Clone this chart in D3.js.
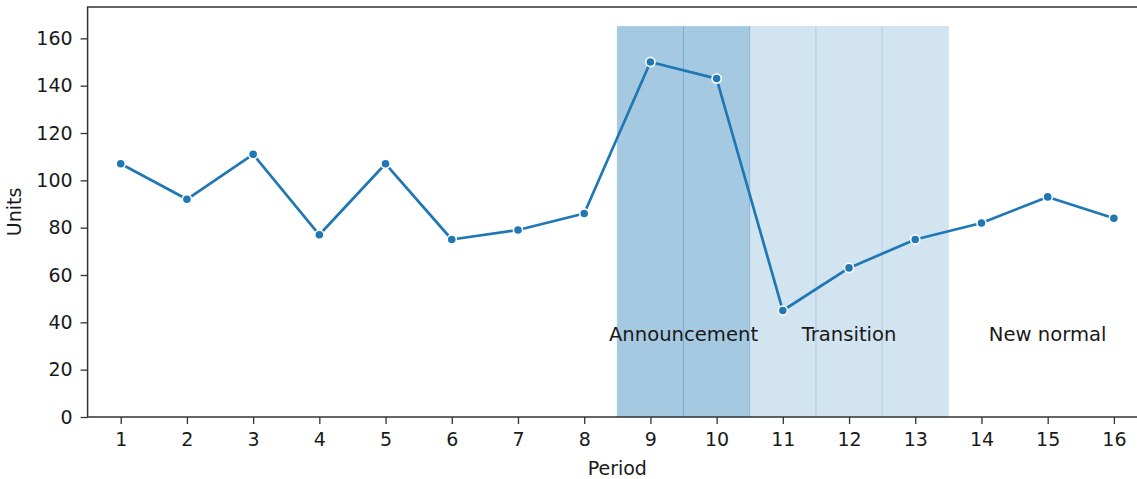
<!DOCTYPE html>
<html>
<head>
<meta charset="utf-8">
<script src="https://cdn.jsdelivr.net/npm/d3@7"></script>
<style>
  html, body { margin: 0; padding: 0; background: #ffffff; }
  svg { display: block; font-family: "DejaVu Sans", sans-serif; }
</style>
</head>
<body>
<svg id="chart" width="1137" height="479"></svg>
<script>
// Units per period
const periods = [1, 2, 3, 4, 5, 6, 7, 8, 9, 10, 11, 12, 13, 14, 15, 16];
const units = [107, 92, 111, 77, 107, 75, 79, 86, 150, 143, 45, 63, 75, 82, 93, 84];

// Shaded periods for each phase
const announcementPeriods = [9, 10];
const transitionPeriods = [11, 12, 13];

// Phase labels and the period they are centred on
const phaseNames = ["Announcement", "Transition", "New normal"];
const phaseCenters = [9.5, 12, 15];
const phaseLabelY = 35;

const yTicks = [0, 20, 40, 60, 80, 100, 120, 140, 160];
const bandTop = 165;

const svg = d3.select("#chart");
const margin = { left: 87.6, top: 7, bottom: 62 };
const plotRight = 1147;
const height = 479;

const x = d3.scaleLinear().domain([0.5, 16.5]).range([margin.left, plotRight]);
const y = d3.scaleLinear().domain([0, 173.25]).range([height - margin.bottom, margin.top]);

const blue = "#1f77b4";

// phase bands, one span per period
const bands = svg.append("g");
function drawBands(list, alpha) {
  bands.selectAll(null)
    .data(list)
    .enter()
    .append("rect")
    .attr("x", d => x(d - 0.5))
    .attr("width", d => x(d + 0.5) - x(d - 0.5))
    .attr("y", y(bandTop))
    .attr("height", y(0) - y(bandTop))
    .attr("fill", blue)
    .attr("fill-opacity", alpha)
    .attr("stroke", blue)
    .attr("stroke-opacity", alpha * 0.5)
    .attr("stroke-width", 1);
}
drawBands(announcementPeriods, 0.4);
drawBands(transitionPeriods, 0.2);

// phase labels
svg.append("g")
  .selectAll("text")
  .data(phaseNames)
  .enter()
  .append("text")
  .attr("x", (d, i) => x(phaseCenters[i]))
  .attr("y", y(phaseLabelY))
  .attr("dy", "0.36em")
  .attr("text-anchor", "middle")
  .attr("font-size", 19.6)
  .attr("fill", "#1a1a1a")
  .text(d => d);

// line and markers
const line = d3.line().x((d, i) => x(periods[i])).y(d => y(d));
svg.append("path")
  .datum(units)
  .attr("d", line)
  .attr("fill", "none")
  .attr("stroke", blue)
  .attr("stroke-width", 2.7)
  .attr("stroke-linejoin", "round");

svg.append("g")
  .selectAll("circle")
  .data(units)
  .enter()
  .append("circle")
  .attr("cx", (d, i) => x(periods[i]))
  .attr("cy", d => y(d))
  .attr("r", 4.6)
  .attr("fill", blue)
  .attr("stroke", "#ffffff")
  .attr("stroke-width", 1.6);

// axes
const xAxis = d3.axisBottom(x).tickValues(periods).tickFormat(d3.format("d")).tickSize(7).tickPadding(9);
const yAxis = d3.axisLeft(y).tickValues(yTicks).tickSize(7).tickPadding(8);

const gx = svg.append("g").attr("transform", `translate(0,${y(0)})`).call(xAxis);
const gy = svg.append("g").attr("transform", `translate(${margin.left},0)`).call(yAxis);

[gx, gy].forEach(g => {
  g.select(".domain").remove();
  g.selectAll(".tick line").attr("stroke", "#333").attr("stroke-width", 1.3);
  g.selectAll(".tick text").attr("font-size", 19).attr("fill", "#1a1a1a")
    .attr("font-family", "DejaVu Sans, sans-serif");
});

// frame
svg.append("rect")
  .attr("x", margin.left)
  .attr("y", margin.top)
  .attr("width", plotRight - margin.left)
  .attr("height", y(0) - margin.top)
  .attr("fill", "none")
  .attr("stroke", "#333")
  .attr("stroke-width", 1.5);

// axis titles
svg.append("text")
  .attr("x", (margin.left + plotRight) / 2)
  .attr("y", 475)
  .attr("text-anchor", "middle")
  .attr("font-size", 19)
  .attr("fill", "#1a1a1a")
  .text("Period");

svg.append("text")
  .attr("transform", `translate(21,${(margin.top + y(0)) / 2}) rotate(-90)`)
  .attr("text-anchor", "middle")
  .attr("font-size", 19)
  .attr("fill", "#1a1a1a")
  .text("Units");
</script>
</body>
</html>
